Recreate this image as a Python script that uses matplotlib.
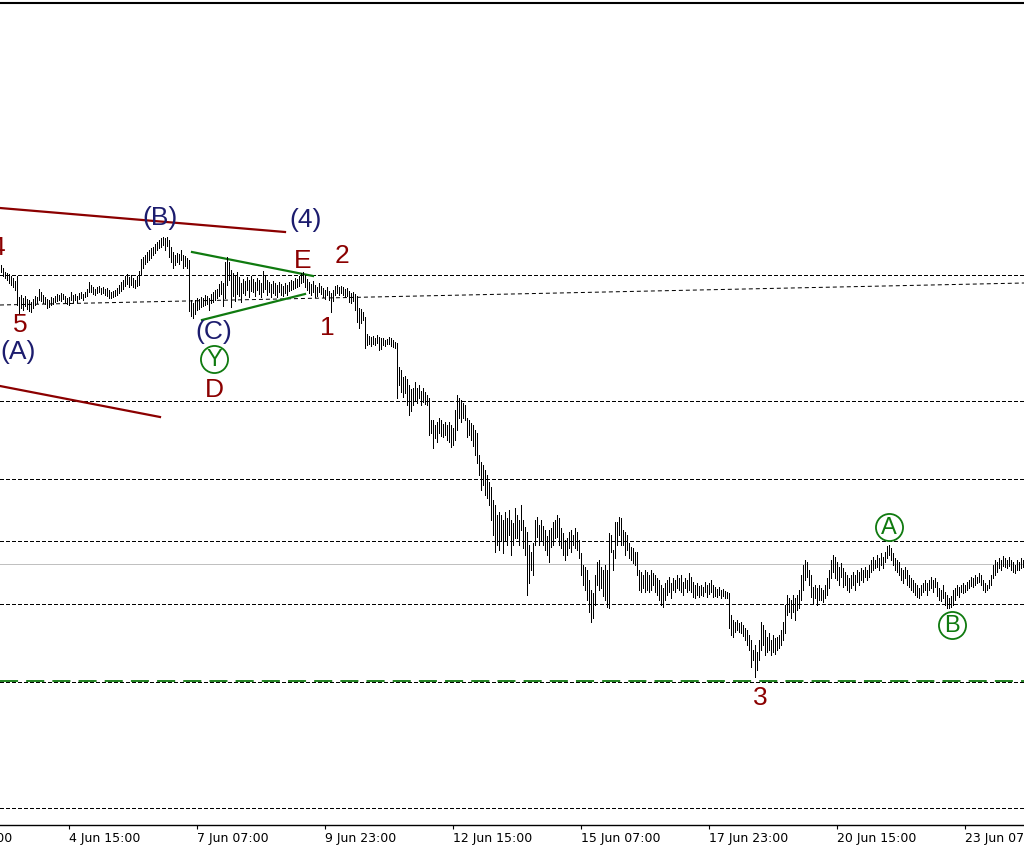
import numpy as np
import matplotlib
matplotlib.use("Agg")
import matplotlib.pyplot as plt
import matplotlib.transforms as mtransforms

# ---------------- data (price units, hourly bars) ----------------
bar_high = [
    735, 732, 728, 727, 726, 724, 722, 719, 724, 703,
    705, 702, 704, 701, 700, 698, 701, 704, 703, 711,
    708, 705, 703, 701, 700, 703, 702, 704, 706, 705,
    707, 706, 704, 702, 703, 708, 705, 706, 704, 707,
    708, 706, 708, 711, 718, 715, 713, 711, 713, 714,
    712, 713, 711, 712, 710, 708, 709, 710, 712, 715,
    718, 720, 724, 726, 723, 725, 722, 720, 724, 729,
    741, 743, 745, 748, 750, 752, 753, 756, 758, 760,
    762, 763, 762, 763, 760, 753, 748, 745, 747, 746,
    750, 745, 744, 742, 740, 700, 697, 700, 702, 701,
    703, 702, 705, 704, 702, 706, 708, 710, 711, 716,
    719, 717, 738, 743, 738, 730, 727, 724, 728, 723,
    717, 721, 719, 723, 720, 724, 721, 718, 722, 720,
    717, 729, 724, 720, 718, 716, 719, 717, 715, 718,
    716, 714, 717, 715, 718, 720, 719, 722, 721, 724,
    727, 728, 725, 721, 718, 716, 719, 715, 713, 717,
    714, 712, 710, 713, 709, 707, 710, 714, 715, 713,
    714, 713, 711, 712, 709, 707, 708, 706, 704, 692,
    691, 688, 683, 666, 664, 663, 664, 662, 665, 663,
    662, 662, 660, 661, 663, 662, 660, 658, 657, 633,
    630, 623, 624, 621, 615, 611, 612, 618, 612, 615,
    609, 612, 608, 605, 602, 580, 580, 575, 578, 582,
    580, 576, 578, 575, 578, 575, 572, 590, 605, 602,
    600, 597, 595, 582, 580, 577, 575, 570, 567, 545,
    538, 535, 530, 525, 518, 513, 500, 495, 485, 488,
    485, 480, 488, 482, 490, 480, 477, 492, 485, 480,
    495, 480, 473, 468, 455, 448, 457, 480, 483, 475,
    480, 474, 470, 464, 470, 472, 478, 480, 485, 482,
    472, 467, 460, 462, 468, 470, 465, 472, 468, 460,
    447, 435, 433, 430, 420, 410, 407, 425, 438, 440,
    433, 430, 435, 430, 467, 465, 450, 478, 478, 483,
    482, 470, 468, 465, 457, 453, 452, 448, 448, 430,
    428, 425, 430, 428, 425, 430, 427, 425, 422, 420,
    415, 412, 417, 420, 423, 417, 422, 420, 425, 422,
    425, 418, 422, 420, 427, 423, 418, 415, 417, 414,
    415, 413, 418, 415, 417, 420, 415, 413, 411, 413,
    410, 411, 409, 408, 407, 385, 380, 378, 380, 377,
    378, 375, 372, 370, 365, 360, 350, 355, 348, 360,
    378, 375, 370, 363, 367, 360, 365, 362, 363, 365,
    370, 378, 395, 405, 402, 400, 405, 402, 405, 410,
    425, 435, 440, 438, 430, 425, 413, 415, 412, 415,
    412, 410, 415, 422, 430, 440, 445, 443, 438, 433,
    437, 432, 428, 425, 422, 425, 428, 425, 430, 428,
    432, 430, 433, 430, 435, 440, 443, 440, 445, 442,
    447, 443, 448, 454, 455, 452, 447, 442, 440, 438,
    432, 430, 433, 430, 425, 422, 420, 417, 415, 412,
    415, 417, 420, 417, 420, 423, 420, 422, 418, 412,
    410, 415, 408, 405, 402, 404, 410, 412, 415, 413,
    415, 417, 415, 418, 420, 423, 422, 425, 423, 427,
    425, 420, 417, 415, 420, 425, 435, 440, 438, 442,
    440, 444, 442, 440, 443, 440, 438, 435, 440, 438,
    442, 440,
]
bar_low = [
    728, 724, 722, 720, 717, 715, 713, 710, 695, 687,
    692, 690, 694, 691, 689, 688, 692, 695, 697, 700,
    699, 697, 696, 692, 693, 695, 696, 698, 699, 700,
    699, 701, 698, 696, 695, 700, 698, 700, 698, 701,
    702, 700, 703, 704, 708, 708, 706, 705, 707, 708,
    706, 707, 705, 704, 702, 702, 703, 704, 705, 707,
    709, 711, 714, 716, 713, 715, 713, 712, 714, 715,
    725, 732, 736, 738, 740, 742, 745, 747, 750, 752,
    753, 755, 750, 754, 743, 738, 732, 735, 738, 736,
    740, 732, 734, 732, 689, 684, 682, 686, 690, 691,
    693, 694, 695, 696, 690, 697, 698, 700, 702, 704,
    706, 694, 702, 715, 720, 693, 704, 699, 706, 704,
    698, 707, 705, 710, 703, 709, 708, 704, 710, 706,
    703, 708, 711, 705, 708, 703, 707, 705, 703, 708,
    705, 704, 707, 705, 709, 710, 711, 712, 713, 714,
    717, 718, 713, 710, 707, 705, 708, 703, 704, 708,
    706, 703, 701, 705, 700, 688, 699, 705, 707, 705,
    707, 705, 703, 704, 698, 697, 699, 690, 678, 672,
    677, 680, 652, 655, 656, 654, 656, 655, 657, 650,
    651, 655, 654, 656, 656, 654, 653, 652, 602, 615,
    608, 603, 607, 595, 585, 589, 595, 600, 597, 602,
    595, 598, 596, 595, 565, 567, 552, 562, 558, 567,
    564, 563, 565, 560, 558, 553, 555, 560, 570, 582,
    578, 582, 580, 563, 565, 560, 554, 545, 537, 525,
    510, 515, 505, 502, 495, 480, 465, 448, 455, 450,
    460, 447, 460, 455, 465, 445, 455, 462, 462, 455,
    470, 452, 445, 405, 417, 430, 425, 455, 463, 455,
    460, 455, 450, 445, 438, 453, 455, 462, 463, 455,
    452, 445, 440, 445, 452, 448, 455, 452, 450, 442,
    425, 415, 410, 400, 388, 378, 382, 395, 415, 410,
    412, 404, 400, 393, 392, 448, 430, 442, 455, 465,
    455, 455, 445, 450, 442, 440, 437, 435, 425, 410,
    408, 412, 408, 410, 408, 410, 415, 408, 405, 400,
    395, 393, 400, 405, 408, 402, 410, 408, 412, 410,
    408, 405, 412, 408, 410, 408, 403, 402, 405, 403,
    405, 404, 408, 403, 406, 408, 403, 404, 403, 405,
    402, 404, 402, 402, 372, 365, 363, 368, 370, 368,
    367, 364, 360, 355, 350, 333, 340, 323, 330, 340,
    350, 355, 345, 348, 350, 345, 348, 346, 350, 352,
    355, 360, 367, 385, 388, 382, 388, 380, 390, 392,
    400, 410, 420, 423, 415, 403, 397, 402, 395, 400,
    400, 398, 402, 405, 412, 422, 428, 422, 420, 415,
    423, 413, 415, 410, 408, 412, 415, 410, 418, 415,
    420, 418, 423, 420, 423, 428, 430, 432, 433, 430,
    435, 432, 438, 442, 445, 440, 435, 430, 428, 425,
    420, 417, 422, 415, 413, 410, 408, 405, 403, 402,
    405, 408, 410, 405, 410, 412, 408, 413, 404, 400,
    399, 402, 395, 392, 392, 393, 395, 400, 405, 403,
    408, 407, 408, 410, 412, 414, 413, 415, 417, 418,
    415, 410, 408, 410, 412, 415, 422, 425, 428, 432,
    430, 434, 433, 432, 434, 430, 428, 427, 430, 430,
    432, 433,
]

tick_labels = ["2 Jun 23:00", "4 Jun 15:00", "7 Jun 07:00", "9 Jun 23:00",
               "12 Jun 15:00", "15 Jun 07:00", "17 Jun 23:00", "20 Jun 15:00",
               "23 Jun 07:00"]
tick_bars = [-30, 34, 98, 162, 226, 290, 354, 418, 482]

level_lines = [725, 599, 521.5, 459, 396, 192]
target_level = 318.5
price_now = 436
ma_line = ([-0.5, 511.5], [695, 717])

channel_upper = ([-0.5, 142], [792, 768])
channel_lower = ([-0.5, 79.5], [614, 583])
tri_upper = ([95.5, 156], [748, 724])
tri_lower = ([100.5, 152], [680, 706])

# wave labels: (text, bar, price)
labels_red = [("4", -1.5, 752), ("5", 9.5, 675), ("E", 151, 739), ("2", 170.5, 744),
              ("1", 163, 672), ("D", 106.5, 610), ("3", 379.5, 302)]
labels_blue = [("(A)", 8.5, 648), ("(B)", 79.5, 782), ("(4)", 152.5, 780), ("(C)", 106.5, 668)]
labels_circ = [("Y", 106.5, 641), ("A", 444, 473), ("B", 475.5, 375)]

RED = "#8b0000"
NAVY = "#1c1c6e"
GREEN = "#0f7a0f"

# ---------------- figure ----------------
fig = plt.figure(figsize=(10.24, 8.52), dpi=100)
ax = fig.add_axes([0, 27 / 852, 1, 822 / 852])
ax.set_xlim(-0.5, 511.5)
ax.set_ylim(175, 997)

idx = np.arange(len(bar_high))
ax.vlines(idx, bar_low, bar_high, colors="black", linewidth=0.7,
          antialiased=False, zorder=3)

dash = (0, (3.5, 3))
for lv in level_lines:
    ax.axhline(lv, color="black", linewidth=0.7, linestyle=dash, antialiased=False, zorder=1)
ax.axhline(target_level - 0.6, color="black", linewidth=0.7, linestyle=dash,
           antialiased=False, zorder=1)
ax.axhline(target_level + 0.4, color=GREEN, linewidth=1.3, linestyle=(0, (10, 4.5)), zorder=1)
ax.axhline(price_now, color="#c0c0c0", linewidth=0.7, antialiased=False, zorder=1)
ax.plot(*ma_line, color="black", linewidth=0.72, linestyle=(0, (4, 3)), zorder=1)

ax.plot(*channel_upper, color=RED, linewidth=1.6, zorder=2)
ax.plot(*channel_lower, color=RED, linewidth=1.6, zorder=2)
ax.plot(*tri_upper, color=GREEN, linewidth=1.6, zorder=2)
ax.plot(*tri_lower, color=GREEN, linewidth=1.6, zorder=2)

fnt = "Liberation Sans"
for t, x, y in labels_red:
    ax.text(x, y, t, color=RED, fontsize=19, family=fnt, ha="center", va="center", zorder=5)
for t, x, y in labels_blue:
    ax.text(x, y, t, color=NAVY, fontsize=19, family=fnt, ha="center", va="center", zorder=5)
for t, x, y in labels_circ:
    ax.plot([x], [y], marker="o", markersize=19.5, markerfacecolor="none",
            markeredgecolor=GREEN, markeredgewidth=1.3, zorder=5)
    ax.text(x, y - 0.5, t, color=GREEN, fontsize=17, family=fnt, ha="center", va="center", zorder=5)

# axes styling
for s in ("left", "right"):
    ax.spines[s].set_visible(False)
ax.spines["top"].set_linewidth(1.5)
ax.spines["bottom"].set_linewidth(1.0)
ax.set_yticks([])
ax.set_xticks(tick_bars[1:])
ax.set_xticklabels(tick_labels[1:], ha="left", fontsize=9, family="DejaVu Sans")
ax.tick_params(axis="x", direction="out", length=3, width=0.8, pad=2)
trans = mtransforms.blended_transform_factory(ax.transData, ax.transAxes)
ax.text(tick_bars[0], -0.0085, tick_labels[0], transform=trans, ha="left", va="top",
        fontsize=9, family="DejaVu Sans", clip_on=False)

fig.savefig("out.png", dpi=100)
